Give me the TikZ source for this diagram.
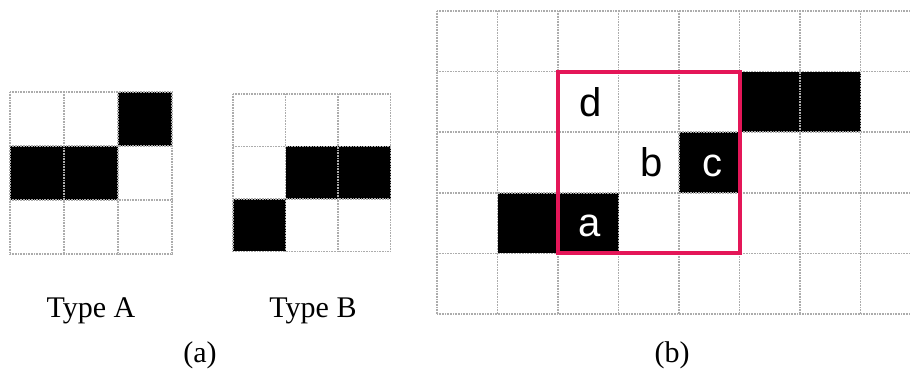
\documentclass[tikz,border=0pt]{standalone}
\usepackage{fontspec}
\setmainfont{Liberation Serif}
\setsansfont{Liberation Sans}
\usetikzlibrary{positioning}
\definecolor{winred}{RGB}{228,22,88}

\begin{document}
\begin{tikzpicture}[
    x=1pt, y=-1pt,
    gridline/.style={draw=gray!65, line width=1.5pt, dash pattern=on 1pt off 0.6pt},
    blk/.style={fill=black},
    caption/.style={font=\fontsize{30}{36}\selectfont, inner sep=0pt, anchor=base},
    letter/.style={font=\sffamily\fontsize{40}{48}\selectfont, inner sep=0pt, anchor=base},
    win/.style={draw=winred, line width=4pt}
]
\useasboundingbox (0,0) rectangle (910,371);

% Type A
\foreach \c/\r in {2/0, 0/1, 1/1}
    \fill[blk] (10+54*\c,92+54*\r) rectangle ++(54,54);
\foreach \i in {0,...,3} {
    \draw[gridline] (10+54*\i,92) -- ++(0,162);
    \draw[gridline] (10,92+54*\i) -- ++(162,0);
}

% Type B
\foreach \c/\r in {1/1, 2/1, 0/2}
    \fill[blk] (233+52.5*\c,94+52.5*\r) rectangle ++(52.5,52.5);
\foreach \i in {0,...,3} {
    \draw[gridline] (233+52.5*\i,94) -- ++(0,157.5);
    \draw[gridline] (233,94+52.5*\i) -- ++(157.5,0);
}

% image grid
\foreach \c/\r in {5/1, 6/1, 4/2, 1/3, 2/3}
    \fill[blk] (437+60.5*\c,11+60.6*\r) rectangle ++(60.5,60.6);
\foreach \i in {0,...,7}
    \draw[gridline] (437+60.5*\i,11) -- ++(0,303);
\foreach \j in {0,...,5}
    \draw[gridline] (437,11+60.6*\j) -- (910,11+60.6*\j);

% window
\draw[win] (558,71.6) rectangle (739.5,253.4);

\node[letter] (lbld) at (591,117) {d};
\node[letter] (lblb) at (652,177) {b};
\node[letter, text=white] (lblc) at (712,177) {c};
\node[letter, text=white] (lbla) at (590,237) {a};

% captions
\node[caption] (typea) at (91,317) {Type A};
\node[caption] (typeb) at (313,317) {Type B};
\node[caption] (capa) at (200,362) {(a)};
\node[caption] (capb) at (672,362) {(b)};
\end{tikzpicture}
\end{document}
